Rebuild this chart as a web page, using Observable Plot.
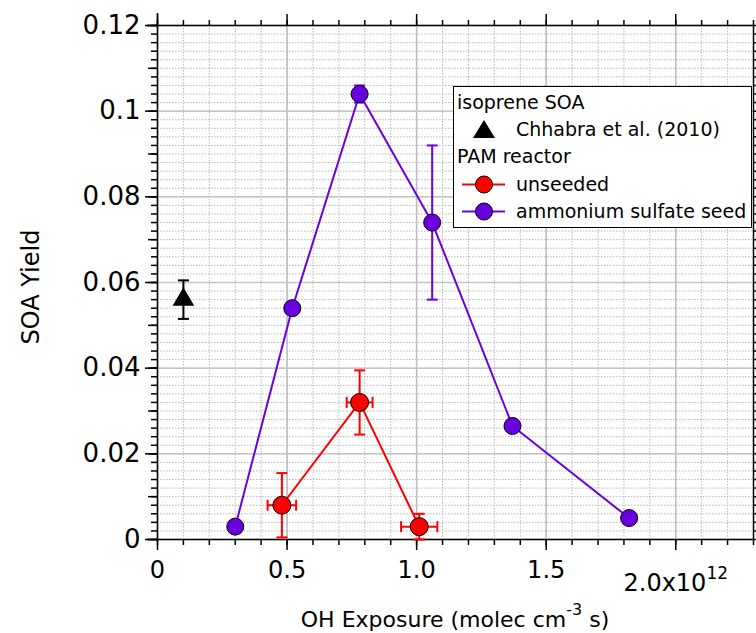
<!DOCTYPE html>
<html><head><meta charset="utf-8">
<script src="https://cdn.jsdelivr.net/npm/d3@7"></script>
<script src="https://cdn.jsdelivr.net/npm/@observablehq/plot@0.6"></script>
<style>
body{margin:0;background:#fff;font-family:"DejaVu Sans",sans-serif;}
#wrap{position:relative;width:756px;height:633px;}
#legend{position:absolute;left:453px;top:86px;width:299px;height:142px;box-sizing:border-box;border:1.5px solid #000;background:#fff;font:19px "DejaVu Sans",sans-serif;color:#000;padding-top:2px;overflow:hidden;}
#legend .row{height:27.2px;line-height:27.2px;display:flex;align-items:center;white-space:nowrap;}
#legend .head{padding-left:3px;}
#legend svg{flex:none;width:62px;height:27px;}
</style></head><body><div id="wrap"></div>
<script>
// ---- data (x in units of 1e12 molec cm^-3 s) ----
const seedX = [0.30, 0.52, 0.78, 1.06, 1.37, 1.82];
const seedY = [0.003, 0.054, 0.104, 0.074, 0.0265, 0.005];
const seedYErr = [0, 0, 0.002, 0.018, 0, 0];
const unseededX = [0.48, 0.78, 1.01];
const unseededY = [0.008, 0.032, 0.003];
const unseededYErr = [0.0075, 0.0075, 0.003];
const unseededXErr = [0.055, 0.05, 0.07];
const chhabraX = [0.1];
const chhabraY = [0.056];
const chhabraYErr = [0.0045];
const xTickValues = [0, 0.5, 1, 1.5, 2];
const xTickLabels = ["0", "0.5", "1.0", "1.5", "2.0x10"];
const yTickValues = [0, 0.02, 0.04, 0.06, 0.08, 0.1, 0.12];
const yTickLabels = ["0", "0.02", "0.04", "0.06", "0.08", "0.1", "0.12"];
const seriesNames = ["unseeded", "ammonium sulfate seed"];
const seriesColors = ["#ff0000", "#6a00e0"];

const seed = seedX.map((x, i) => ({x, y: seedY[i], err: seedYErr[i]}));
const unseeded = unseededX.map((x, i) => ({x, y: unseededY[i], err: unseededYErr[i], xerr: unseededXErr[i]}));
const chhabra = chhabraX.map((x, i) => ({x, y: chhabraY[i], err: chhabraYErr[i]}));

const minorX = d3.range(0, 24).map(i => +(i * 0.1).toFixed(2));
const minorY = d3.range(0, 61).map(i => +(i * 0.002).toFixed(4));
const midY = d3.range(0, 13).map(i => +(i * 0.01).toFixed(3));

const hCap = {draw(ctx) { ctx.moveTo(-5.5, 0); ctx.lineTo(5.5, 0); }};
const vCap = {draw(ctx) { ctx.moveTo(0, -5.5); ctx.lineTo(0, 5.5); }};
const blank = () => "";
const RED = seriesColors[0], PUR = seriesColors[1];

function errMarks(data, color) {
  const e = data.filter(d => d.err > 0);
  return [
    Plot.ruleX(e, {x: "x", y1: d => d.y - d.err, y2: d => d.y + d.err, stroke: color, strokeWidth: 2}),
    Plot.dot(e, {x: "x", y: d => d.y + d.err, symbol: hCap, stroke: color, strokeWidth: 2, fill: "none"}),
    Plot.dot(e, {x: "x", y: d => d.y - d.err, symbol: hCap, stroke: color, strokeWidth: 2, fill: "none"})
  ];
}

const plot = Plot.plot({
  width: 756, height: 633,
  marginLeft: 157, marginRight: 3, marginTop: 25, marginBottom: 94,
  style: {fontFamily: "DejaVu Sans, sans-serif", fontSize: "22px", background: "white", overflow: "visible"},
  x: {domain: [0, 2.3], label: null},
  y: {domain: [0, 0.12], label: null},
  marks: [
    Plot.gridX(minorX, {stroke: "#b8b8b8", strokeOpacity: 1, strokeWidth: 1, strokeDasharray: "1.5,1.5"}),
    Plot.gridY(minorY, {stroke: "#b8b8b8", strokeOpacity: 1, strokeWidth: 1, strokeDasharray: "1.5,1.5"}),
    Plot.gridX(xTickValues, {stroke: "#bdbdbd", strokeOpacity: 1, strokeWidth: 1.5}),
    Plot.gridY(yTickValues, {stroke: "#c4c4c4", strokeOpacity: 1, strokeWidth: 1.5}),
    // axes tick marks
    Plot.axisX(minorX, {anchor: "bottom", tickSize: 6, tickFormat: blank, strokeWidth: 1.5}),
    Plot.axisX(minorX, {anchor: "top", tickSize: 6, tickFormat: blank, strokeWidth: 1.5}),
    Plot.axisX(xTickValues, {anchor: "top", tickSize: 12, tickFormat: blank, strokeWidth: 1.5}),
    Plot.axisX(xTickValues, {anchor: "bottom", tickSize: 11, tickPadding: 10, strokeWidth: 1.5,
      tickFormat: d => xTickLabels[xTickValues.indexOf(d)], fontSize: 24}),
    Plot.axisY(minorY, {anchor: "left", tickSize: 6, tickFormat: blank, strokeWidth: 1.5}),
    Plot.axisY(midY, {anchor: "left", tickSize: 9, tickFormat: blank, strokeWidth: 1.5}),
    Plot.axisY(minorY, {anchor: "right", tickSize: 6, tickFormat: blank, strokeWidth: 1.5}),
    Plot.axisY(yTickValues, {anchor: "left", tickSize: 12, tickPadding: 5, strokeWidth: 1.5,
      tickFormat: d => yTickLabels[yTickValues.indexOf(d)], fontSize: 26}),
    // frame lines
    Plot.ruleX([0], {stroke: "#000", strokeWidth: 1.5, insetTop: -12}),
    Plot.ruleX([2.3], {stroke: "#000", strokeWidth: 1.5}),
    Plot.ruleY([0], {stroke: "#000", strokeWidth: 1.5, insetLeft: -10}),
    Plot.ruleY([0.12], {stroke: "#000", strokeWidth: 1.5, insetLeft: -10}),
    // series lines
    Plot.line(seed, {x: "x", y: "y", stroke: PUR, strokeWidth: 2}),
    Plot.line(unseeded, {x: "x", y: "y", stroke: RED, strokeWidth: 2}),
    // error bars
    ...errMarks(seed, PUR),
    ...errMarks(unseeded, RED),
    Plot.ruleY(unseeded, {y: "y", x1: d => d.x - d.xerr, x2: d => d.x + d.xerr, stroke: RED, strokeWidth: 2}),
    Plot.dot(unseeded, {x: d => d.x - d.xerr, y: "y", symbol: vCap, stroke: RED, strokeWidth: 2, fill: "none"}),
    Plot.dot(unseeded, {x: d => d.x + d.xerr, y: "y", symbol: vCap, stroke: RED, strokeWidth: 2, fill: "none"}),
    ...errMarks(chhabra, "#000"),
    // points
    Plot.dot(seed, {x: "x", y: "y", r: 8.5, fill: PUR, stroke: "#000", strokeWidth: 1}),
    Plot.dot(unseeded, {x: "x", y: "y", r: 9, fill: RED, stroke: "#000", strokeWidth: 1}),
    Plot.dot(chhabra, {x: "x", y: "y", r: 8, symbol: "triangle", fill: "#000"})
  ]
});

document.getElementById("wrap").appendChild(plot);
const svg = d3.select(plot);

// superscript on the last x tick label
svg.selectAll("text").each(function() {
  if (this.textContent === "2.0x10") {
    const t = d3.select(this);
    t.text(null);
    t.append("tspan").attr("dy", "13").text("2.0x10");
    t.append("tspan").attr("dy", "-12").attr("font-size", "17px").text("12");
  }
});

// axis titles
const xt = svg.append("text").attr("x", 455).attr("y", 627).attr("text-anchor", "middle")
  .attr("font-size", "22px").attr("fill", "#000");
xt.append("tspan").text("OH Exposure (molec cm");
xt.append("tspan").attr("font-size", "16px").attr("dy", "-12").text("-3");
xt.append("tspan").attr("dy", "12").text(" s)");
svg.append("text").attr("transform", "translate(39,287) rotate(-90)").attr("text-anchor", "middle")
  .attr("font-size", "24px").attr("fill", "#000").text("SOA Yield");

// legend
const legend = document.createElement("div");
legend.id = "legend";
const sym = (color) => `<svg viewBox="0 0 62 27"><line x1="8" x2="51" y1="13.5" y2="13.5" stroke="${color}" stroke-width="2"/><circle cx="30" cy="13.5" r="8.5" fill="${color}" stroke="#000" stroke-width="1"/></svg>`;
legend.innerHTML =
  `<div class="row head">isoprene SOA</div>` +
  `<div class="row"><svg viewBox="0 0 62 27"><path d="M30,4 L41,22 L19,22 Z" fill="#000"/></svg>Chhabra et al. (2010)</div>` +
  `<div class="row head">PAM reactor</div>` +
  `<div class="row">${sym(RED)}${seriesNames[0]}</div>` +
  `<div class="row">${sym(PUR)}${seriesNames[1]}</div>`;
document.getElementById("wrap").appendChild(legend);
</script></body></html>
